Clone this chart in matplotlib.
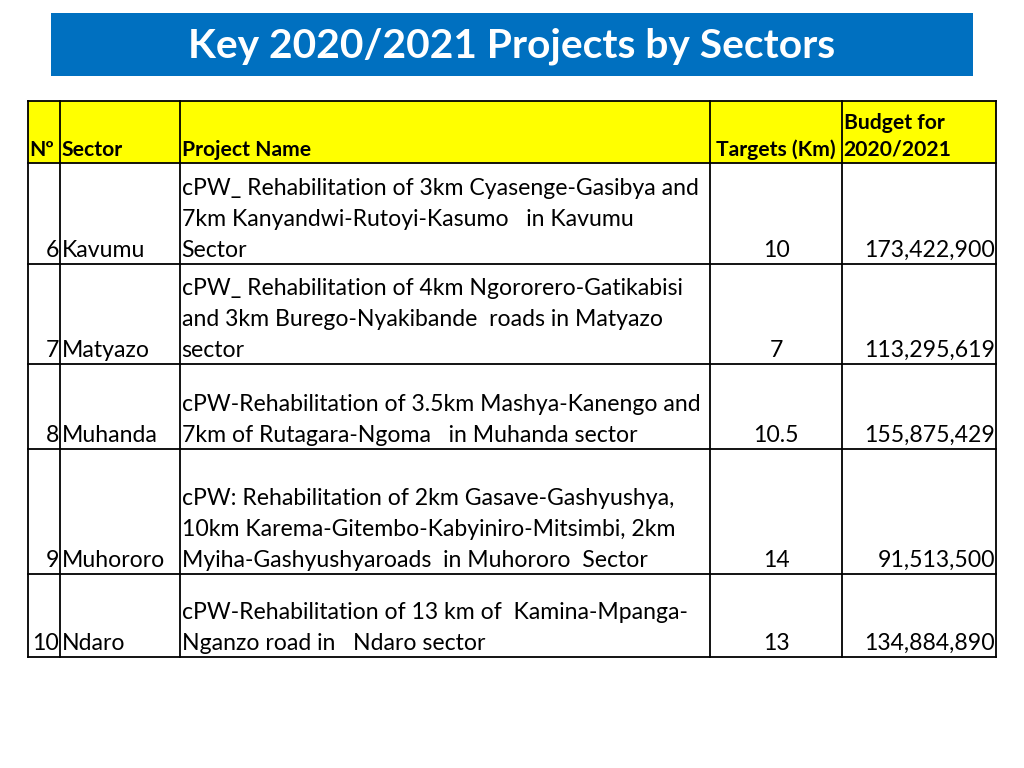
import matplotlib
matplotlib.use("Agg")
import matplotlib.pyplot as plt
from matplotlib.patches import Rectangle

plt.rcParams['font.family'] = ['Lato', 'DejaVu Sans']

title = "Key 2020/2021 Projects by Sectors"

headers = ["Nº", "Sector", "Project Name", "Targets (Km)", "Budget for\n2020/2021"]
numbers = [6, 7, 8, 9, 10]
sectors = ["Kavumu", "Matyazo", "Muhanda", "Muhororo", "Ndaro"]
projects = [
    "cPW_ Rehabilitation of 3km Cyasenge-Gasibya and\n7km Kanyandwi-Rutoyi-Kasumo   in Kavumu\nSector",
    "cPW_ Rehabilitation of 4km Ngororero-Gatikabisi\nand 3km Burego-Nyakibande  roads in Matyazo\nsector",
    "cPW-Rehabilitation of 3.5km Mashya-Kanengo and\n7km of Rutagara-Ngoma   in Muhanda sector",
    "cPW: Rehabilitation of 2km Gasave-Gashyushya,\n10km Karema-Gitembo-Kabyiniro-Mitsimbi, 2km\nMyiha-Gashyushyaroads  in Muhororo  Sector",
    "cPW-Rehabilitation of 13 km of  Kamina-Mpanga-\nNganzo road in   Ndaro sector",
]
targets = ["10", "7", "10.5", "14", "13"]
budgets = [173422900, 113295619, 155875429, 91513500, 134884890]

# layout (pixel coords)
col_edges = [28, 60, 180, 710, 842, 996]
row_edges = [101, 163, 264, 364, 449, 574, 657]

fig = plt.figure(figsize=(10.24, 7.68), dpi=100)
ax = fig.add_axes([0, 0, 1, 1])
ax.set_xlim(0, 1024)
ax.set_ylim(768, 0)
ax.axis('off')

# title banner
ax.add_patch(Rectangle((51, 13), 922, 63, facecolor='#0070C0', edgecolor='none'))
ax.text(512, 46, title, color='white', fontsize=29.3, fontweight='bold',
        ha='center', va='center')

# header background
ax.add_patch(Rectangle((col_edges[0], row_edges[0]), col_edges[-1] - col_edges[0],
                       row_edges[1] - row_edges[0], facecolor='#FFFF00', edgecolor='none'))

# grid lines
for x in col_edges:
    ax.plot([x, x], [row_edges[0], row_edges[-1]], color='black', lw=1.3)
for y in row_edges:
    ax.plot([col_edges[0], col_edges[-1]], [y, y], color='black', lw=1.3)

hfs = 15.2
bfs = 16.6
pad = 1.5


def cell_lines(text, col, bottom, fs, ha, weight='normal', step=31, off=7, rpad=1):
    lines = text.split("\n")
    n = len(lines)
    if ha == 'left':
        x = col_edges[col] + pad
    elif ha == 'right':
        x = col_edges[col + 1] - rpad
    else:
        x = (col_edges[col] + col_edges[col + 1]) / 2
    for i, ln in enumerate(lines):
        y = bottom - off - step * (n - 1 - i)
        ax.text(x, y, ln, fontsize=fs, ha=ha, va='baseline', fontweight=weight, color='black')


hb = row_edges[1]
cell_lines(headers[0], 0, hb, hfs, 'left', 'bold', 27)
cell_lines(headers[1], 1, hb, hfs, 'left', 'bold', 27)
cell_lines(headers[2], 2, hb, hfs, 'left', 'bold', 27)
cell_lines(headers[3], 3, hb, hfs, 'right', 'bold', 27, rpad=6)
cell_lines(headers[4], 4, hb, hfs, 'left', 'bold', 27)

for i in range(len(numbers)):
    b = row_edges[i + 2]
    cell_lines(str(numbers[i]), 0, b, bfs, 'right')
    cell_lines(sectors[i], 1, b, bfs, 'left')
    cell_lines(projects[i], 2, b, bfs, 'left')
    cell_lines(targets[i], 3, b, bfs, 'center')
    cell_lines(f"{budgets[i]:,}", 4, b, bfs, 'right')

fig.savefig("out.png", dpi=100)
